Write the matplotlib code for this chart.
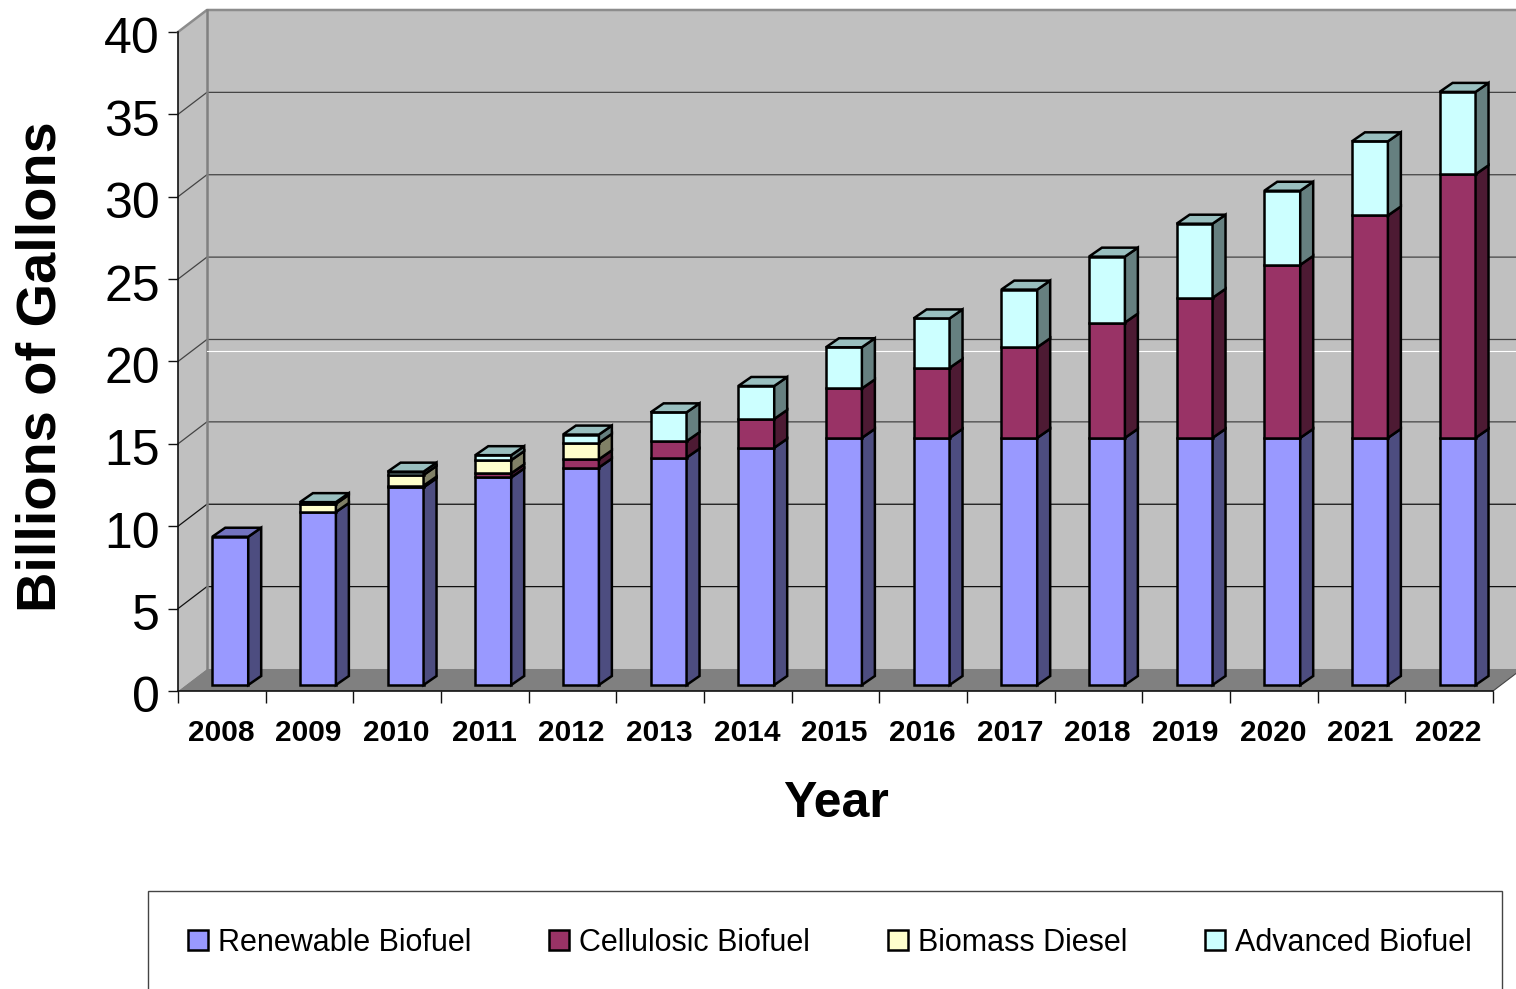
import numpy as np
import matplotlib
matplotlib.use('Agg')
import matplotlib.pyplot as plt
from matplotlib.patches import Patch, Rectangle
from matplotlib.transforms import ScaledTranslation

plt.rcParams['font.family'] = ['Liberation Sans', 'DejaVu Sans']

years = [2008, 2009, 2010, 2011, 2012, 2013, 2014, 2015, 2016, 2017, 2018, 2019, 2020, 2021, 2022]
renewable = [9, 10.5, 12, 12.6, 13.2, 13.8, 14.4, 15, 15, 15, 15, 15, 15, 15, 15]
cellulosic = [0, 0, 0.1, 0.25, 0.5, 1, 1.75, 3, 4.25, 5.5, 7, 8.5, 10.5, 13.5, 16]
biomass = [0, 0.5, 0.65, 0.8, 1, 0, 0, 0, 0, 0, 0, 0, 0, 0, 0]
advanced = [0, 0.1, 0.2, 0.3, 0.5, 1.75, 2, 2.5, 3, 3.5, 4, 4.5, 4.5, 4.5, 5]

series = [renewable, cellulosic, biomass, advanced]
names = ['Renewable Biofuel', 'Cellulosic Biofuel', 'Biomass Diesel', 'Advanced Biofuel']
colores = ['#9999FF', '#993366', '#FFFFCC', '#CCFFFF']

W, H = 1516, 989
fig = plt.figure(figsize=(W / 100, H / 100), dpi=100, facecolor='white')
ax = fig.add_axes([178 / W, 1 - 691 / H, (1493 - 178) / W, (691 - 32) / H])
ax.set_xlim(-0.5, 14.5)
ax.set_ylim(0, 40)
ax.patch.set_visible(False)

# profundidad de la caja 3D y de las barras, en unidades de datos
wall_dx, wall_dy = 0.33, 1.336
bar_dx, bar_dy = 0.148, 0.546
off_x, off_y = 0.096, 0.364
ancho = 0.41
borde = 1.8


def shade(color, f):
    rgb = np.array(matplotlib.colors.to_rgb(color))
    return tuple(rgb * f)


# paredes y piso
x0, x1 = -0.5, 14.5
ax.fill([x0, x0 + wall_dx, x0 + wall_dx, x0], [0, wall_dy, 40 + wall_dy, 40],
        color='#C0C0C0', lw=0, clip_on=False, zorder=1)
ax.fill([x0 + wall_dx, x1 + wall_dx, x1 + wall_dx, x0 + wall_dx], [wall_dy, wall_dy, 40 + wall_dy, 40 + wall_dy],
        color='#C0C0C0', lw=0, clip_on=False, zorder=1)
ax.fill([x0, x1, x1 + wall_dx, x0 + wall_dx], [0, 0, wall_dy, wall_dy],
        color='#808080', lw=0, clip_on=False, zorder=1)

for v in range(5, 40, 5):
    gris = '#111111' if v <= 10 else '#444444'
    ax.plot([x0, x0 + wall_dx, x1 + wall_dx], [v, v + wall_dy, v + wall_dy],
            color=gris, lw=0.9, clip_on=False, zorder=2)

ax.plot([x0, x0 + wall_dx, x1 + wall_dx], [40, 40 + wall_dy, 40 + wall_dy],
        color='#8C8C8C', lw=1.8, clip_on=False, zorder=2)
ax.plot([x0 + wall_dx, x0 + wall_dx], [wall_dy, 40 + wall_dy], color='#808080', lw=1.8, zorder=2, clip_on=False)
ax.plot([x1, x1 + wall_dx], [0, wall_dy], color='#444444', lw=0.8, clip_on=False, zorder=2)

# linea blanca sobre la pared del fondo
linea_blanca = 20.64
ax.plot([x0 + wall_dx, x1 + wall_dx], [linea_blanca, linea_blanca], color='white', lw=0.8, clip_on=False, zorder=2)

# barras apiladas
x = np.arange(len(years))
base = np.zeros(len(years))
for valores, color in zip(series, colores):
    valores = np.array(valores, dtype=float)
    mask = valores > 0
    ax.bar(x[mask] + off_x, valores[mask], width=ancho, bottom=base[mask] + off_y,
           color=color, edgecolor='black', lw=borde, zorder=3)
    for i in x[mask]:
        xr = i + off_x + ancho / 2
        y0 = base[i] + off_y
        y1 = y0 + valores[i]
        ax.fill([xr, xr + bar_dx, xr + bar_dx, xr], [y0, y0 + bar_dy, y1 + bar_dy, y1],
                facecolor=shade(color, 0.5), edgecolor='black', lw=borde, zorder=3, clip_on=False)
    base = base + valores

# cara superior de cada barra, con el color del ultimo tramo
for i in x:
    ultimo = [c for s, c in zip(series, colores) if s[i] > 0][-1]
    xl = i + off_x - ancho / 2
    xr = i + off_x + ancho / 2
    yt = base[i] + off_y
    ax.fill([xl, xr, xr + bar_dx, xl + bar_dx], [yt, yt, yt + bar_dy, yt + bar_dy],
            facecolor=shade(ultimo, 0.75), edgecolor='black', lw=borde, zorder=3, clip_on=False)

# ejes
for lado in ['top', 'right']:
    ax.spines[lado].set_visible(False)
for lado in ['left', 'bottom']:
    ax.spines[lado].set_color('#111111')
    ax.spines[lado].set_linewidth(1.2)
    ax.spines[lado].set_zorder(2.5)

ax.set_yticks(range(0, 45, 5))
ax.tick_params(axis='y', length=7.2, width=1.0, color='#111111', labelsize=36, pad=6)
for lab in ax.get_yticklabels():
    lab.set_transform(lab.get_transform() + ScaledTranslation(0, -3.5 / 100, fig.dpi_scale_trans))

ax.set_xticks(np.arange(-0.5, 15, 1))
ax.set_xticklabels([])
ax.tick_params(axis='x', which='major', length=8.6, width=1.0, color='#111111')
ax.set_xticks(x - 0.01, minor=True)
ax.set_xticklabels(years, minor=True, fontsize=21.5, fontweight='bold')
ax.tick_params(axis='x', which='minor', length=0, pad=20)

fig.text(42 / W, 1 - 367 / H, 'Billions of Gallons', rotation=90, ha='center', va='center',
         fontsize=40.3, fontweight='bold')
fig.text(836 / W, 1 - 804 / H, 'Year', ha='center', va='center', fontsize=36, fontweight='bold')

# leyenda: el marco se sale por abajo de la figura
fig.add_artist(Rectangle((148 / W, -0.05), (1502 - 148) / W, 1 - 891 / H + 0.05, transform=fig.transFigure,
                         facecolor='white', edgecolor='#444444', lw=1.0))
handles = [Patch(facecolor=c, edgecolor='black', lw=borde) for c in colores]
leg = fig.legend(handles, names, ncol=4, loc='center left', bbox_to_anchor=(188 / W, 1 - 943 / H),
                 bbox_transform=fig.transFigure, frameon=False, fontsize=22, borderpad=0, borderaxespad=0,
                 handlelength=0.65, handleheight=0.65, handletextpad=0.33, columnspacing=2.55)
leg.set_zorder(5)

fig.savefig('out.png', dpi=100)
